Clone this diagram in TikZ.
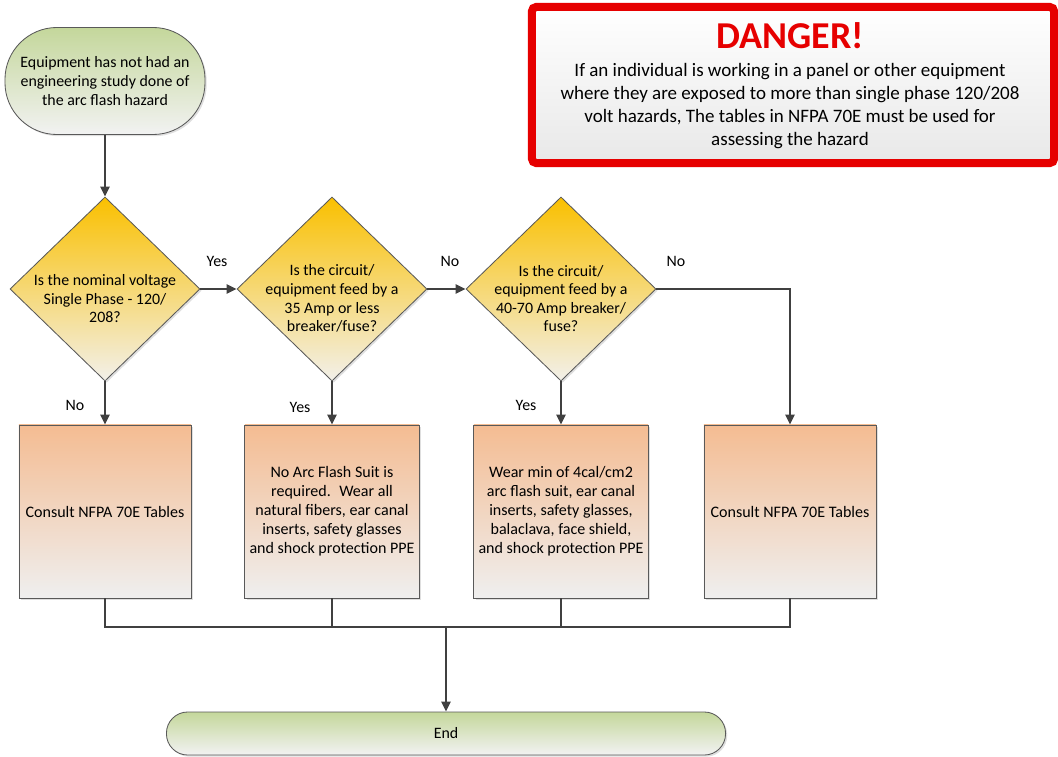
\documentclass[tikz,border=0pt]{standalone}
\usepackage{fontspec}
\setmainfont{Carlito}
\usetikzlibrary{shapes.geometric,arrows.meta,shadows}

\definecolor{termtop}{HTML}{C4D79B}
\definecolor{termbot}{HTML}{F2F2F2}
\definecolor{dectop}{HTML}{FAC000}
\definecolor{decbot}{HTML}{F2F0EA}
\definecolor{proctop}{HTML}{F4BC92}
\definecolor{procbot}{HTML}{EFEFEF}
\definecolor{edgegray}{HTML}{595959}
\definecolor{wire}{HTML}{404040}
\definecolor{dangerred}{HTML}{E60000}

\tikzstyle{shade} = [drop shadow={shadow xshift=1.2pt,shadow yshift=-1.2pt,opacity=0.25}]
\tikzstyle{terminal} = [align=center,draw=edgegray,line width=0.6pt,rectangle,top color=termtop,bottom color=termbot,font=\fontsize{11.3}{13.6}\selectfont,shade]
\tikzstyle{decision} = [draw=edgegray,line width=0.6pt,diamond,minimum width=4.75cm,minimum height=4.6cm,inner sep=0pt,top color=dectop,bottom color=decbot,shade]
\tikzstyle{qtext} = [align=center,font=\fontsize{11.3}{13.2}\selectfont,yshift=-0.24cm]
\tikzstyle{process} = [align=center,draw=edgegray,line width=0.6pt,rectangle,minimum width=4.3cm,minimum height=4.325cm,top color=proctop,bottom color=procbot,font=\fontsize{11.4}{13.5}\selectfont,shade]
\tikzstyle{lbl} = [font=\fontsize{11.3}{13}\selectfont]
\tikzstyle{arrow} = [draw=wire,line width=1.2pt,-{Triangle[length=7pt,width=6.5pt]}]
\tikzstyle{line} = [draw=wire,line width=1.2pt]
\tikzstyle{dangerbox} = [draw=dangerred,line width=0.2cm,rectangle,rounded corners=3pt,minimum width=13.05cm,minimum height=3.9cm,top color=white,bottom color=black!9,drop shadow={shadow xshift=1pt,shadow yshift=-1pt,opacity=0.3}]

\begin{document}
\begin{tikzpicture}[x=0.025cm,y=-0.025cm]
	\useasboundingbox (0,0) rectangle (1058,756);
	% warning panel
	\node (danger) [dangerbox] at (793,85) {};
	\node (dangertitle) [anchor=base,text=dangerred,font=\fontsize{27}{30}\selectfont\bfseries] at (790,48) {DANGER!};
	\node (dangertext) [align=center,font=\fontsize{13.5}{16.2}\selectfont] at (790,106) {If an individual is working in a panel or other equipment\\where they are exposed to more than single phase 120/208\\volt hazards, The tables in NFPA 70E must be used for\\assessing the hazard};
	% flow
	\node (start) [terminal,minimum width=5cm,minimum height=2.675cm,rounded corners=1.3cm] at (105,81) {Equipment has not had an\\engineering study done of\\the arc flash hazard};
	\node (dec1) [decision,label={[qtext]center:{Is the nominal voltage\\Single Phase - 120/\\208?}}] at (105,289) {};
	\node (dec2) [decision,label={[qtext]center:{Is the circuit/\\equipment feed by a\\35 Amp or less\\breaker/fuse?}}] at (332,289) {};
	\node (dec3) [decision,label={[qtext]center:{Is the circuit/\\equipment feed by a\\40-70 Amp breaker/\\fuse?}}] at (561,289) {};
	\node (box1) [process] at (105,511.5) {Consult NFPA 70E Tables};
	\node (box2) [process] at (332,511.5) {No Arc Flash Suit is\\required.~ Wear all\\natural fibers, ear canal\\inserts, safety glasses\\and shock protection PPE};
	\node (box3) [process] at (561,511.5) {Wear min of 4cal/cm2\\arc flash suit, ear canal\\inserts, safety glasses,\\balaclava, face shield,\\and shock protection PPE};
	\node (box4) [process] at (790,511.5) {Consult NFPA 70E Tables};
	\node (finish) [terminal,minimum width=13.975cm,minimum height=1.075cm,rounded corners=0.53cm] at (446,733.5) {End};
	\coordinate (merge) at (446,627);
	% answers
	\node (yes1) [lbl] at (217,261) {Yes};
	\node (no2) [lbl] at (450,261) {No};
	\node (no3) [lbl] at (676,261) {No};
	\node (no1) [lbl] at (75,405) {No};
	\node (yes2) [lbl] at (300,407) {Yes};
	\node (yes3) [lbl] at (526,405) {Yes};
	% connectors
	\draw [arrow] (start) -- (dec1);
	\draw [arrow] (dec1.east) -- (dec2.west);
	\draw [arrow] (dec2.east) -- (dec3.west);
	\draw [arrow] (dec3.east) -| (box4.north);
	\draw [arrow] (dec1.south) -- (box1.north);
	\draw [arrow] (dec2.south) -- (box2.north);
	\draw [arrow] (dec3.south) -- (box3.north);
	\draw [line] (box1.south) |- (merge) -| (box4.south);
	\draw [line] (box2.south) -- (box2.south |- merge);
	\draw [line] (box3.south) -- (box3.south |- merge);
	\draw [arrow] (merge) -- (finish);
\end{tikzpicture}
\end{document}
